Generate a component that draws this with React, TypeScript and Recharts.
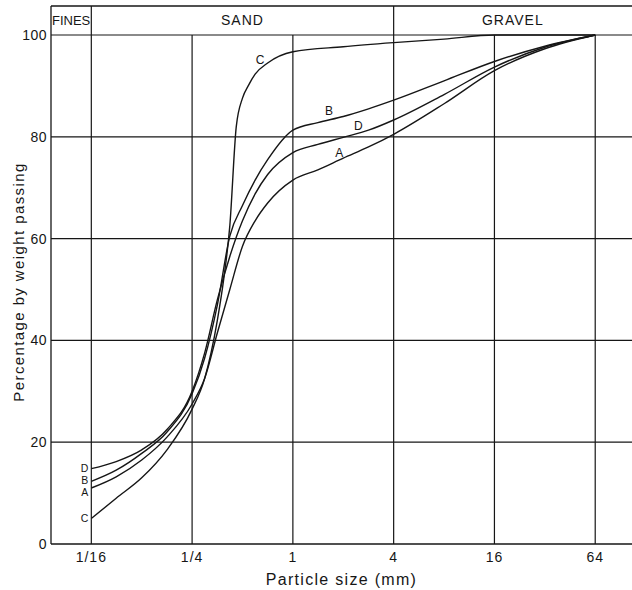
import { LineChart, Line, XAxis, YAxis, ReferenceLine, ReferenceArea, ReferenceDot } from 'recharts'

// particle sizes in mm
const gridSizes = [0.0625, 0.088, 0.125, 0.177, 0.25, 0.297, 0.354, 0.42, 0.5, 0.595, 0.707, 1, 1.41, 2, 2.83, 4, 8, 16, 32, 64]
const curveA = [11, 13.2, 16.5, 21, 27.5, 32.5, 41.5, 50, 58.5, 63.5, 67, 71.5, 73.5, 75.8, 78, 80.5, 86.5, 93, 97.3, 100]
const curveB = [12.3, 14.5, 17.8, 22, 29.5, 36.5, 47, 60.5, 66.5, 71.5, 75.5, 81.3, 82.8, 84, 85.5, 87.2, 91, 94.8, 97.8, 100]
const curveD = [14.8, 16.2, 18.5, 22.5, 30, 37.5, 48, 56.5, 63.5, 68.8, 72.6, 76.9, 78.5, 79.9, 81.3, 83.3, 88.3, 93.7, 97.6, 100]

// C is much steeper, so it gets a finer grid around 0.4 mm
const sizesC = [0.0625, 0.088, 0.125, 0.177, 0.25, 0.297, 0.354, 0.386, 0.42, 0.459, 0.5, 0.545, 0.595, 0.707, 1, 2, 4, 8, 16, 32, 64]
const curveC = [5, 9, 13, 18.5, 26.5, 32.5, 44, 52, 62.5, 82, 87.6, 90.2, 92.3, 94.5, 96.7, 97.7, 98.5, 99.2, 100, 100, 100]

const tickSizes = [1 / 16, 1 / 4, 1, 4, 16, 64]
const tickLabels = ['1/16', '1/4', '1', '4', '16', '64']
const yTicks = [0, 20, 40, 60, 80, 100]

// letters written along the curves
const curveNames = ['A', 'B', 'C', 'D']
const midLabelSizes = [1.895, 1.644, 0.636, 2.46]
const midLabelPcts = [76.8, 85.1, 95.2, 82.1]
const startLabelPcts = [10.1, 12.6, 5.0, 14.9]

const X_MIN = 2 ** -4.8
const X_MAX = 2 ** 6.73
const Y_TOP = 105.7
const INK = '#161616'

function toPoints(sizes: number[], pcts: number[]) {
  return sizes.map((size, i) => ({ size, pct: pcts[i] }))
}

const series = [
  { name: 'A', data: toPoints(gridSizes, curveA) },
  { name: 'B', data: toPoints(gridSizes, curveB) },
  { name: 'C', data: toPoints(sizesC, curveC) },
  { name: 'D', data: toPoints(gridSizes, curveD) },
]

function formatSize(v: number): string {
  const i = tickSizes.findIndex((t) => Math.abs(t - v) < 1e-9)
  return i >= 0 ? tickLabels[i] : String(v)
}

function YTitle(props: any) {
  const vb = props.viewBox || { x: 0, y: 0, width: 0, height: 0 }
  const cx = vb.x + 18.5
  const cy = vb.y + vb.height / 2 + 7
  return (
    <text
      x={cx}
      y={cy}
      transform={`rotate(-90, ${cx}, ${cy})`}
      textAnchor="middle"
      dominantBaseline="central"
      fill={INK}
      fontSize={15}
      letterSpacing={1.4}
    >
      Percentage by weight passing
    </text>
  )
}

export default function App() {
  return (
    <div style={{ position: 'absolute', left: 0, top: 0, width: 632, height: 590, background: '#fff', fontFamily: '"Liberation Sans", Arial, sans-serif' }}>
      <LineChart width={632} height={590} margin={{ top: 6, right: 0, left: 0, bottom: 0 }}>
        <XAxis
          dataKey="size"
          type="number"
          scale="log"
          domain={[X_MIN, X_MAX]}
          ticks={tickSizes}
          tickFormatter={formatSize}
          allowDataOverflow
          height={46}
          tickLine={false}
          axisLine={{ stroke: INK, strokeWidth: 1.3 }}
          tick={{ fill: INK, fontSize: 14, letterSpacing: 1 }}
          label={{
            value: 'Particle size (mm)',
            position: 'insideBottom',
            offset: 5,
            style: { fill: INK, fontSize: 16, letterSpacing: 1.3 },
          }}
        />
        <YAxis
          type="number"
          domain={[0, Y_TOP]}
          ticks={yTicks}
          allowDataOverflow
          width={51}
          tickLine={false}
          tickSize={2}
          tickMargin={2}
          axisLine={{ stroke: INK, strokeWidth: 1.3 }}
          tick={{ fill: INK, fontSize: 14, letterSpacing: 0.5 }}
          label={<YTitle />}
        />

        {/* horizontal grid, plus the top border of the class band */}
        {yTicks.slice(1).map((v) => (
          <ReferenceLine key={`h${v}`} y={v} stroke={INK} strokeWidth={1.2} ifOverflow="visible" />
        ))}
        <ReferenceLine y={Y_TOP} stroke={INK} strokeWidth={1.3} ifOverflow="visible" />

        {/* vertical grid: class boundaries run up through the band */}
        {tickSizes.map((s) => {
          const top = s === 1 / 16 || s === 4 ? Y_TOP : 100
          return (
            <ReferenceLine
              key={`v${s}`}
              segment={[{ x: s, y: 0 }, { x: s, y: top }]}
              stroke={INK}
              strokeWidth={1.2}
              ifOverflow="visible"
            />
          )
        })}

        <ReferenceArea x1={X_MIN} x2={1 / 16} y1={100} y2={Y_TOP} fill="none" stroke="none" ifOverflow="visible"
          label={{ value: 'FINES', position: 'center', style: { fill: INK, fontSize: 13 } }} />
        <ReferenceArea x1={1 / 16} x2={4} y1={100} y2={Y_TOP} fill="none" stroke="none" ifOverflow="visible"
          label={{ value: 'SAND', position: 'center', style: { fill: INK, fontSize: 14, letterSpacing: 1 } }} />
        <ReferenceArea x1={4} x2={X_MAX} y1={100} y2={Y_TOP} fill="none" stroke="none" ifOverflow="visible"
          label={{ value: 'GRAVEL', position: 'center', style: { fill: INK, fontSize: 14, letterSpacing: 1 } }} />

        {series.map((s) => (
          <Line
            key={s.name}
            data={s.data}
            dataKey="pct"
            name={s.name}
            type="monotone"
            stroke={INK}
            strokeWidth={1.4}
            dot={false}
            activeDot={false}
            isAnimationActive={false}
          />
        ))}

        {curveNames.map((n, i) => (
          <ReferenceDot
            key={`m${n}`}
            x={midLabelSizes[i]}
            y={midLabelPcts[i]}
            r={0}
            fill="none"
            stroke="none"
            label={{ value: n, position: 'center', style: { fill: INK, fontSize: 12 } }}
          />
        ))}
        {curveNames.map((n, i) => (
          <ReferenceDot
            key={`s${n}`}
            x={1 / 16}
            y={startLabelPcts[i]}
            r={0}
            fill="none"
            stroke="none"
            label={{ value: n, position: 'left', offset: 3, style: { fill: INK, fontSize: 10.5 } }}
          />
        ))}
      </LineChart>
    </div>
  )
}
